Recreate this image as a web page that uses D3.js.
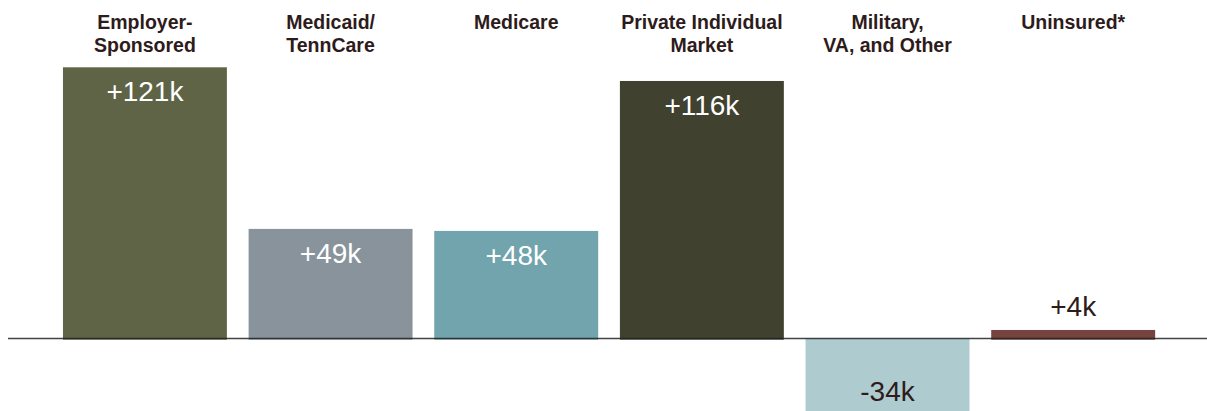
<!DOCTYPE html>
<html><head><meta charset="utf-8">
<script src="https://cdn.jsdelivr.net/npm/d3@7"></script>
<style>html,body{margin:0;padding:0;background:#fff;overflow:hidden}</style>
</head><body>
<script>
const categories = [["Employer-","Sponsored"],["Medicaid/","TennCare"],["Medicare"],["Private Individual","Market"],["Military,","VA, and Other"],["Uninsured*"]];
const values = [121, 48.9, 48.0, 114.9, -34, 3.8];
const valueLabels = ["+121k","+49k","+48k","+116k","-34k","+4k"];
const colors = ["#606446","#89939b","#71a4ad","#40412e","#aecbd0","#764440"];
const labelColors = ["#ffffff","#ffffff","#ffffff","#ffffff","#2e1b1b","#2e1b1b"];

const W = 1207, H = 411;
const svg = d3.select("body").append("svg").attr("width", W).attr("height", H);
const idx = d3.range(values.length);
const x = d3.scaleBand().domain(idx).range([52.1, 1166]).paddingInner(0.117).paddingOuter(0.0585);
const y = d3.scaleLinear().domain(d3.extent(values)).range([414.7, 67.3]);

svg.selectAll("rect.bar").data(idx).join("rect").attr("class","bar")
  .attr("x", i => x(i)).attr("width", x.bandwidth())
  .attr("y", i => Math.min(y(values[i]), y(0)))
  .attr("height", i => Math.abs(y(values[i]) - y(0)) + (values[i] > 0 ? 1.2 : 0))
  .attr("fill", i => colors[i]);

svg.append("line").attr("x1", 8).attr("x2", W).attr("y1", y(0)).attr("y2", y(0))
  .attr("stroke", "#222").attr("stroke-opacity", 0.85).attr("stroke-width", 1.3);

svg.selectAll("text.val").data(idx).join("text").attr("class","val")
  .attr("x", i => x(i) + x.bandwidth()/2)
  .attr("y", i => {
    const yy = y(values[i]);
    if (values[i] < 0) return yy - 14;
    if (y(0) - yy < 40) return yy - 14;
    return yy + 34;
  })
  .attr("text-anchor","middle")
  .attr("font-family","'Liberation Sans', Arial, sans-serif")
  .attr("font-size", 28)
  .attr("fill", i => labelColors[i])
  .text(i => valueLabels[i]);

const hdr = svg.selectAll("text.hdr").data(idx).join("text").attr("class","hdr")
  .attr("x", i => x(i) + x.bandwidth()/2)
  .attr("y", 28.5)
  .attr("text-anchor","middle")
  .attr("font-family","'Liberation Sans', Arial, sans-serif")
  .attr("font-weight","bold")
  .attr("font-size", 19.5)
  .attr("fill","#2e1b1b");
hdr.each(function(i){
  const t = d3.select(this);
  categories[i].forEach((line, k) => {
    t.append("tspan").attr("x", x(i) + x.bandwidth()/2).attr("dy", k === 0 ? 0 : 23.5).text(line);
  });
});
</script>
</body></html>
